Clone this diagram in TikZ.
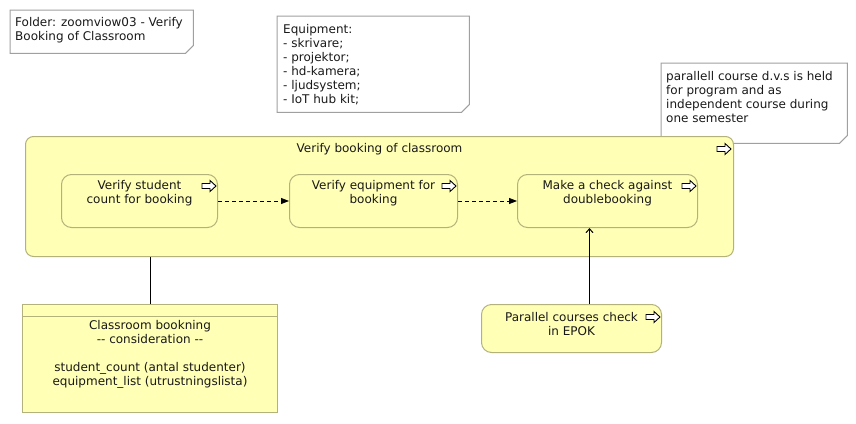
\documentclass[tikz,border=0pt]{standalone}
\usepackage{fontspec}
\setmainfont{DejaVu Sans}
\usetikzlibrary{arrows.meta,positioning,calc}
\definecolor{bizfill}{HTML}{FFFFB5}
\definecolor{bizline}{HTML}{B2B27A}
\definecolor{noteline}{HTML}{A0A0A0}

\begin{document}
\begin{tikzpicture}[
    x=1pt, y=-1pt,
    every node/.style={font=\fontsize{12}{14}\selectfont, text=black!90, inner sep=0pt},
    grp/.style={draw=bizline, fill=bizfill, line width=1pt, rounded corners=8pt, anchor=north west},
    proc/.style={draw=bizline, fill=bizfill, line width=1pt, rounded corners=10pt, anchor=north west},
    dobj/.style={draw=bizline, fill=bizfill, line width=1pt, anchor=north west},
    noteshape/.style={anchor=north west},
    note/.style={draw=noteline, line width=1pt},
    txt/.style={align=center},
    notetxt/.style={align=left},
    flow/.style={-{Triangle[length=8pt,width=6pt]}, line width=0.8pt, dash pattern=on 4pt off 3pt},
    serve/.style={-{Straight Barb[length=4pt,width=7pt]}, line width=1pt},
    assoc/.style={line width=1pt},
    procarrow/.pic={
      \draw[fill=white, line width=0.9pt, line join=miter]
        (-7,-2.5) -- (1,-2.5) -- (1,-5.5) -- (7,0) -- (1,5.5) -- (1,2.5) -- (-7,2.5) -- cycle;
    },
]
  \useasboundingbox (0,0) rectangle (856,423);

  % Notes
  \node[noteshape, minimum width=183pt, minimum height=43pt] (folder) at (10,10) {};
  \draw[note] (folder.north west) -- (folder.north east) -- ($(folder.south east)+(0,-8)$)
    -- ($(folder.south east)+(-8,0)$) -- (folder.south west) -- cycle;
  \node[notetxt, below right=7.5pt and 5pt of folder.north west] (foldertxt)
    {Folder: zoomviow03 - Verify\\Booking of Classroom};

  \node[noteshape, minimum width=192pt, minimum height=96pt] (equip) at (277,16) {};
  \draw[note] (equip.north west) -- (equip.north east) -- ($(equip.south east)+(0,-8)$)
    -- ($(equip.south east)+(-8,0)$) -- (equip.south west) -- cycle;
  \node[notetxt, below right=8.5pt and 6pt of equip.north west] (equiptxt)
    {Equipment:\\- skrivare;\\- projektor;\\- hd-kamera;\\- ljudsystem;\\- IoT hub kit;};

  \node[noteshape, minimum width=186pt, minimum height=80pt] (parnote) at (661,63) {};
  \draw[note] (parnote.north west) -- (parnote.north east) -- ($(parnote.south east)+(0,-8)$)
    -- ($(parnote.south east)+(-8,0)$) -- (parnote.south west) -- cycle;
  \node[notetxt, below right=8.5pt and 5pt of parnote.north west] (parnotetxt)
    {parallell course d.v.s is held\\for program and as\\independent course during\\one semester};

  % Group process
  \node[grp, minimum width=708pt, minimum height=120pt] (verify) at (25,136) {};
  \node[txt, below=7pt of verify.north] (verifytxt) {Verify booking of classroom};
  \pic at ($(verify.north east)+(-10,13)$) {procarrow};

  % Sub processes
  \node[proc, minimum width=156pt, minimum height=53pt] (chk1) at (61,174) {};
  \node[txt, below=6.5pt of chk1.north] (chk1txt) {Verify student\\count for booking};
  \pic at ($(chk1.north east)+(-9,12)$) {procarrow};

  \node[proc, minimum width=168pt, minimum height=53pt] (chk2) at (289,174) {};
  \node[txt, below=6.5pt of chk2.north] (chk2txt) {Verify equipment for\\booking};
  \pic at ($(chk2.north east)+(-9,12)$) {procarrow};

  \node[proc, minimum width=180pt, minimum height=53pt] (chk3) at (517,174) {};
  \node[txt, below=6.5pt of chk3.north] (chk3txt) {Make a check against\\doublebooking};
  \pic at ($(chk3.north east)+(-9,12)$) {procarrow};

  % Data object and EPOK process
  \node[dobj, minimum width=255pt, minimum height=108pt] (data) at (22,304) {};
  \draw[draw=bizline, line width=1pt] ($(data.north west)+(0,12)$) -- ($(data.north east)+(0,12)$);
  \node[txt, below=16.5pt of data.north] (datatxt)
    {Classroom bookning\\\mbox{-}\mbox{-} consideration \mbox{-}\mbox{-}\\[14pt]student\_count (antal studenter)\\equipment\_list (utrustningslista)};

  \node[proc, minimum width=180pt, minimum height=48pt] (epok) at (481,304) {};
  \node[txt, below=8.5pt of epok.north] (epoktxt) {Parallel courses check\\in EPOK};
  \pic at ($(epok.north east)+(-9,13)$) {procarrow};

  % Arrows
  \draw[flow] (chk1) -- (chk2);
  \draw[flow] (chk2) -- (chk3);
  \draw[assoc] (data.north) -- (data.north |- verify.south);
  \coordinate (srv) at ($(epok.north)!0.5!(chk3.south)$);
  \draw[serve] (epok.north -| srv) -- (chk3.south -| srv);
\end{tikzpicture}
\end{document}
